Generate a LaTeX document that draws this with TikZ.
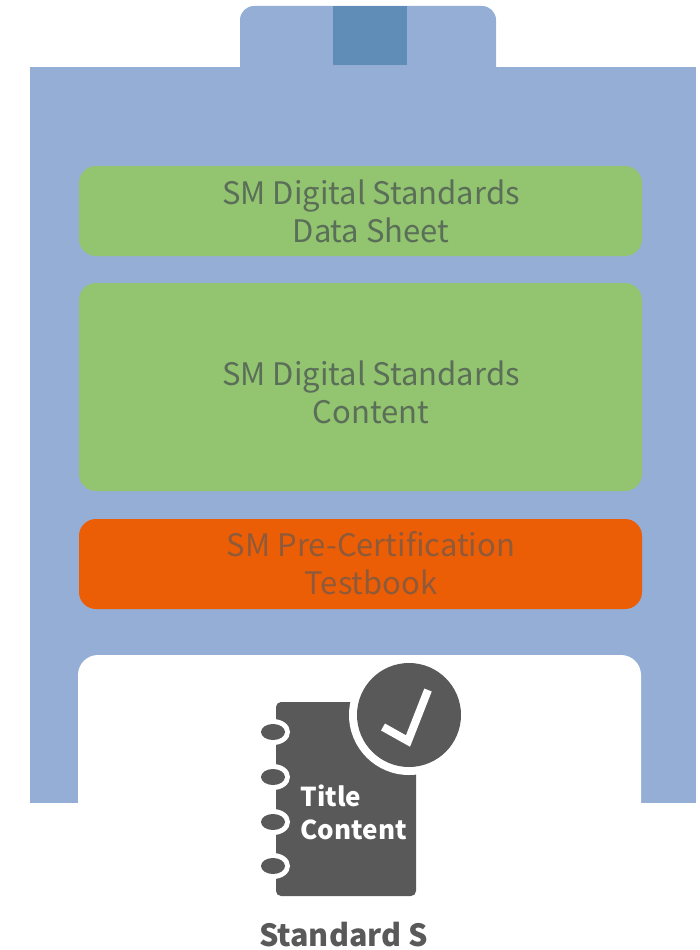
\documentclass[tikz,border=0pt]{standalone}
\usepackage{fontspec}
\setmainfont{Noto Sans CJK SC}
\definecolor{panel}{HTML}{95AED5}
\definecolor{slot}{HTML}{5F8DB8}
\definecolor{leaf}{HTML}{93C470}
\definecolor{tang}{HTML}{EB5E05}
\definecolor{ink}{HTML}{595959}
\definecolor{leaftext}{HTML}{5A6E58}
\definecolor{tangtext}{HTML}{8F5A3A}
\tikzset{
  x=1pt,y=-1pt,
  band/.style={fill=#1,rounded corners=17pt},
  lbl/.style={font=\fontsize{31}{38}\selectfont,align=center,text=#1},
}
\begin{document}
\begin{tikzpicture}
\useasboundingbox (0,0) rectangle (700,950);
% panel
\fill[panel] (240,70) [rounded corners=14pt] -- (240,6) -- (496,6) [sharp corners] -- (496,70) -- cycle;
\fill[panel] (30,67) rectangle (696,803);
\fill[slot] (333,6) rectangle (407,65);
% bands
\fill[band=leaf] (79,166) rectangle (642,256);
\node[lbl=leaftext] (sheet) at (371,211) {SM Digital Standards\\Data Sheet};
\fill[band=leaf] (79,283) rectangle (642,491);
\node[lbl=leaftext] (content) at (371,392) {SM Digital Standards\\Content};
\fill[band=tang] (79,519) rectangle (642,609);
\node[lbl=tangtext] (test) at (371,563) {SM Pre-Certification\\Testbook};
% white base
\fill[white] (78,804) [rounded corners=20pt] -- (78,655) -- (641,655) [sharp corners] -- (641,804) -- cycle;
% book
\fill[ink,rounded corners=5pt] (276,702) rectangle (416,896);
\foreach \y in {732,777,822,866}{
  \fill[white] (273,\y) ellipse[x radius=17,y radius=13];
  \fill[ink] (273,\y) ellipse[x radius=12,y radius=8];
}
\fill[white] (409,715) circle[radius=60];
\fill[ink] (409,715) circle[radius=52];
\draw[white,line width=8pt] (383,727) -- (408,741) -- (428,690);
\node[font=\bfseries\fontsize{26}{33}\selectfont,text=white,align=left,anchor=west] (title) at (297,812) {Title\\Content};
\node[font=\bfseries\fontsize{30.5}{36}\selectfont,text=ink] (std) at (343.5,935) {Standard S};
\end{tikzpicture}
\end{document}
